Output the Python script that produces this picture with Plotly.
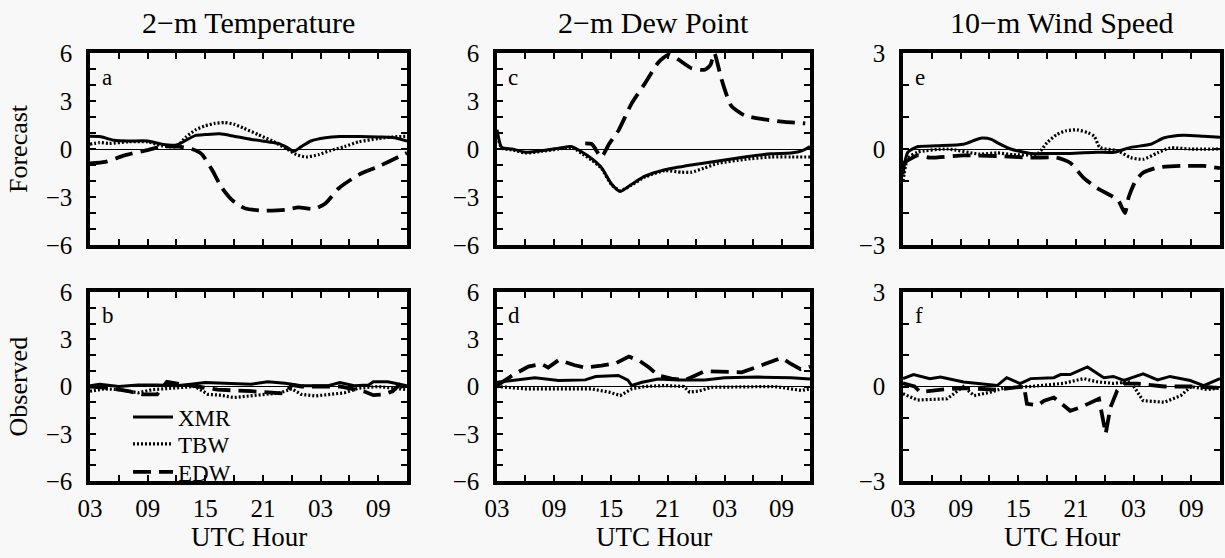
import plotly.graph_objects as go

# Hours elapsed since 03 UTC on the first day
# ---------------- 2-m Temperature, forecast (a) ----------------
a_xmr_h = [0, 1, 2.5, 4, 6, 7.5, 9, 10, 11, 12, 13.5, 15, 16.8, 18.5, 19.6, 20.5, 21.2, 22, 23, 24.5, 26, 28, 30, 31.5, 33]
a_xmr_v = [0.8, 0.78, 0.55, 0.5, 0.5, 0.3, 0.25, 0.55, 0.85, 0.9, 0.95, 0.8, 0.6, 0.45, 0.35, 0.1, -0.15, 0.15, 0.5, 0.7, 0.78, 0.78, 0.75, 0.72, 0.5]
a_tbw_h = [0, 1, 2, 4, 6, 7.5, 9, 10, 11, 12, 13, 14, 15, 16, 17.5, 19, 20.5, 21.5, 22.5, 23.8, 25, 26.5, 28, 30, 31.5, 33]
a_tbw_v = [0.3, 0.4, 0.35, 0.45, 0.45, 0.2, 0.15, 0.75, 1.2, 1.45, 1.6, 1.65, 1.55, 1.3, 0.9, 0.5, 0.0, -0.35, -0.5, -0.35, -0.1, 0.15, 0.45, 0.65, 0.75, 0.8]
a_edw_h = [0, 1.6, 3.6, 6.1, 7.5, 9.2, 10.6, 11.6, 12.7, 13.7, 14.8, 16.1, 17.9, 20.3, 21.7, 23.3, 24.5, 25.9, 28, 30, 32.1, 33]
a_edw_v = [-0.9, -0.8, -0.4, -0.05, 0.15, 0.15, 0.0, -0.3, -1.3, -2.4, -3.2, -3.7, -3.85, -3.8, -3.65, -3.75, -3.4, -2.45, -1.6, -1.1, -0.5, -0.25]

# ---------------- 2-m Temperature, observed (b) ----------------
b_xmr_h = [0, 1, 3, 5, 7, 9, 10.5, 12, 14, 16.8, 18.5, 20.3, 22, 24.8, 26, 27.5, 29, 29.5, 31, 33]
b_xmr_v = [0.05, 0.15, 0.0, 0.1, 0.1, 0.05, 0.15, 0.25, 0.2, 0.15, 0.3, 0.2, 0.05, 0.05, 0.25, 0.05, 0.1, 0.3, 0.3, 0.05]
b_tbw_h = [0, 1.5, 3, 5, 6.5, 8.5, 10.9, 12.3, 13.5, 15, 16.5, 18, 19.8, 21, 22.0, 23.5, 25, 26.5, 28, 30, 31.5, 33]
b_tbw_v = [-0.3, -0.15, -0.2, -0.4, -0.2, -0.1, 0.0, -0.5, -0.55, -0.7, -0.6, -0.5, -0.4, -0.15, -0.5, -0.6, -0.5, -0.4, -0.1, 0.0, -0.1, -0.2]
b_edw_h = [0, 2, 4, 5.5, 7, 8, 9.5, 11, 13.3, 16.8, 20.3, 21.0, 22, 24, 26, 28.5, 29.5, 30.5, 31.5, 32.2, 33]
b_edw_v = [0.0, -0.1, -0.3, -0.5, -0.5, 0.3, 0.15, 0.0, -0.2, -0.3, -0.45, 0.1, 0.0, 0.0, 0.0, -0.3, -0.55, -0.5, -0.3, 0.1, -0.2]

# ---------------- 2-m Dew Point, forecast (c) ----------------
c_xmr_h = [0, 0.5, 1.6, 3, 4.7, 6.5, 7.9, 9, 10, 11, 12.1, 13, 14.2, 15.6, 17.7, 20.5, 23.3, 26.1, 28.9, 31, 32.2, 33]
c_xmr_v = [1.2, 0.1, 0.0, -0.2, -0.1, 0.05, 0.15, -0.2, -0.6, -1.15, -2.2, -2.65, -2.2, -1.7, -1.3, -1.0, -0.75, -0.5, -0.3, -0.25, -0.1, 0.15]
c_tbw_h = [0, 0.5, 1.6, 3, 4.7, 6.5, 7.9, 9, 10, 11, 12.1, 13, 14.2, 15.6, 17.7, 19.5, 20.5, 21.8, 23.3, 26.1, 28.9, 31, 33]
c_tbw_v = [1.0, 0.05, -0.05, -0.25, -0.15, 0.0, 0.1, -0.3, -0.7, -1.2, -2.25, -2.6, -2.25, -1.75, -1.35, -1.45, -1.45, -1.2, -0.9, -0.65, -0.5, -0.5, -0.5]
c_edw_h = [9.3, 10, 11, 11.8, 12.8, 14.2, 15.6, 17, 18.1, 19.1, 20.5, 21.9, 22.5, 22.9, 23.7, 24.7, 26.1, 28.2, 30.3, 32.5]
c_edw_v = [0.35, 0.3, -0.5, 0.3, 1.15, 2.85, 4.1, 5.4, 5.9, 5.6, 5.05, 4.95, 5.25, 6.0, 4.3, 2.7, 2.1, 1.85, 1.7, 1.6]

# ---------------- 2-m Dew Point, observed (d) ----------------
d_xmr_h = [0, 1.6, 4, 6.5, 9.3, 10.4, 12.8, 13.8, 14.2, 15.3, 17, 19.1, 21.9, 24, 27.5, 31, 33]
d_xmr_v = [0.27, 0.38, 0.55, 0.38, 0.42, 0.63, 0.7, 0.4, 0.06, 0.27, 0.48, 0.42, 0.42, 0.55, 0.6, 0.55, 0.48]
d_tbw_h = [0, 3, 7, 10, 11.8, 13, 14.2, 15.6, 17.7, 19.7, 20.3, 21.2, 22.6, 25.8, 29.3, 32.1, 33]
d_tbw_v = [0.0, -0.15, -0.15, -0.15, -0.36, -0.57, -0.15, 0.0, 0.06, 0.0, -0.35, -0.3, -0.05, -0.05, 0.0, -0.25, -0.15]
d_edw_h = [0, 1.6, 3.3, 4.7, 5.4, 6.5, 8.2, 9.3, 11, 12.5, 13.9, 15, 16, 17, 18.4, 19.8, 21.9, 24, 25.8, 27.5, 28.9, 30, 31, 32, 33]
d_edw_v = [0.06, 0.7, 1.26, 1.43, 1.2, 1.68, 1.35, 1.2, 1.33, 1.47, 1.9, 1.64, 1.22, 0.7, 0.5, 0.4, 0.97, 0.9, 0.9, 1.26, 1.55, 1.82, 1.43, 1.1, 1.26]

# ---------------- 10-m Wind Speed, forecast (e) ----------------
e_xmr_h = [0, 0.2, 0.5, 1.5, 3.5, 6.3, 7.5, 8.2, 9.2, 9.8, 11.2, 13.3, 15, 17.4, 20.2, 22, 23.7, 25.8, 27.2, 29.2, 31.3, 33]
e_xmr_v = [-0.8, -0.4, -0.1, 0.07, 0.1, 0.15, 0.28, 0.34, 0.3, 0.2, 0.0, -0.14, -0.14, -0.14, -0.1, -0.1, 0.05, 0.15, 0.35, 0.43, 0.4, 0.37]
e_tbw_h = [0, 0.5, 1.5, 4.6, 8, 9.8, 11.5, 14, 15, 16, 17, 18.1, 19.3, 19.9, 20.5, 22.3, 23.7, 25, 26.5, 27.8, 29.9, 33]
e_tbw_v = [-1.0, -0.3, -0.1, 0.0, -0.16, -0.12, -0.18, -0.15, 0.2, 0.45, 0.57, 0.6, 0.5, 0.4, 0.05, -0.05, -0.27, -0.32, -0.12, 0.03, 0.0, 0.0]
e_edw_h = [0, 1.5, 2.8, 6.3, 9.8, 13.3, 16, 17.4, 18.8, 20.2, 21.6, 22.4, 23.1, 23.5, 24.2, 25, 26.5, 28.9, 31.3, 33]
e_edw_v = [-0.45, -0.2, -0.27, -0.2, -0.22, -0.27, -0.27, -0.43, -0.9, -1.22, -1.45, -1.6, -2.0, -1.5, -1.0, -0.74, -0.58, -0.53, -0.53, -0.6]

# ---------------- 10-m Wind Speed, observed (f) ----------------
f_xmr_h = [0, 1.1, 2.8, 3.9, 6.3, 9.8, 10.8, 12.2, 13.3, 15.7, 16.4, 17.4, 19.2, 20.9, 21.9, 23, 25, 26.5, 27.8, 29.9, 31.3, 33]
f_xmr_v = [0.25, 0.38, 0.25, 0.3, 0.14, 0.03, 0.28, 0.09, 0.25, 0.28, 0.38, 0.38, 0.62, 0.28, 0.32, 0.19, 0.4, 0.21, 0.32, 0.19, 0.03, 0.25]
f_tbw_h = [0, 1.5, 4.6, 5.3, 6.3, 7.4, 9.1, 10.5, 13.3, 16.7, 18.8, 20.2, 21.9, 23.7, 25, 27.2, 28.9, 30, 31.7, 33]
f_tbw_v = [-0.23, -0.43, -0.39, -0.23, 0.0, -0.29, -0.18, -0.05, 0.0, 0.1, 0.25, 0.15, 0.1, 0.15, -0.45, -0.5, -0.29, 0.0, -0.1, -0.05]
f_edw_h = [0, 1.2, 1.8, 4, 6.3, 9.8, 12.6, 12.9, 14, 14.7, 15.7, 16.4, 17.4, 18.5, 19.5, 20.4, 21.1, 21.6, 22.3, 23, 24.4, 27.2, 30.6, 33]
f_edw_v = [0.1, 0.0, -0.18, -0.1, -0.05, -0.1, 0.0, -0.55, -0.6, -0.45, -0.35, -0.53, -0.77, -0.66, -0.5, -0.39, -1.5, -0.66, -0.13, 0.09, 0.09, 0.0, 0.0, -0.05]

# Axis labelling
hour_ticks = list(range(0, 34, 3))
hour_labels = ["03", "", "09", "", "15", "", "21", "", "03", "", "09", ""]
col_titles = ["2\u2212m Temperature", "2\u2212m Dew Point", "10\u2212m Wind Speed"]
row_titles = ["Forecast", "Observed"]
panel_letters = ["a", "b", "c", "d", "e", "f"]
series_names = ["XMR", "TBW", "EDW"]

FONT = "Liberation Serif"
BG = "#f8f8f8"
W, H = 1225, 558

# pixel geometry of the panel grid
col_px = [(90, 407), (497, 810), (903, 1220)]
row_px = [(53, 245), (292, 481)]

series_styles = {
    "XMR": dict(color="black", width=3, dash="solid"),
    "TBW": dict(color="black", width=3.2, dash="2px,2px"),
    "EDW": dict(color="black", width=3.8, dash="18px,8px"),
}
# one legend box per series, stacked inside panel b
legend_ids = {"XMR": "legend", "TBW": "legend2", "EDW": "legend3"}
legend_rows_px = {"XMR": 417, "TBW": 444, "EDW": 472}

panels = [
    # (col, row, {series: (hours, values)}, y-limit)
    (0, 0, {"XMR": (a_xmr_h, a_xmr_v), "TBW": (a_tbw_h, a_tbw_v), "EDW": (a_edw_h, a_edw_v)}, 6),
    (0, 1, {"XMR": (b_xmr_h, b_xmr_v), "TBW": (b_tbw_h, b_tbw_v), "EDW": (b_edw_h, b_edw_v)}, 6),
    (1, 0, {"XMR": (c_xmr_h, c_xmr_v), "TBW": (c_tbw_h, c_tbw_v), "EDW": (c_edw_h, c_edw_v)}, 6),
    (1, 1, {"XMR": (d_xmr_h, d_xmr_v), "TBW": (d_tbw_h, d_tbw_v), "EDW": (d_edw_h, d_edw_v)}, 6),
    (2, 0, {"XMR": (e_xmr_h, e_xmr_v), "TBW": (e_tbw_h, e_tbw_v), "EDW": (e_edw_h, e_edw_v)}, 3),
    (2, 1, {"XMR": (f_xmr_h, f_xmr_v), "TBW": (f_tbw_h, f_tbw_v), "EDW": (f_edw_h, f_edw_v)}, 3),
]


def ylabel(v):
    return "\u2212" + str(-v) if v < 0 else str(v)


fig = go.Figure()
layout = {}
annotations = []

for i, (col, row, data, ylim) in enumerate(panels):
    n = i + 1
    xname = "xaxis" if n == 1 else f"xaxis{n}"
    yname = "yaxis" if n == 1 else f"yaxis{n}"
    xref = "x" if n == 1 else f"x{n}"
    yref = "y" if n == 1 else f"y{n}"

    x0, x1 = col_px[col]
    y0, y1 = row_px[row]

    yticks = list(range(-ylim, ylim + 1))
    ytext = [ylabel(v) if v % 3 == 0 else "" for v in yticks]

    layout[xname] = dict(
        domain=[x0 / W, x1 / W], anchor=yref, range=[0, 33],
        tickmode="array", tickvals=hour_ticks,
        ticktext=hour_labels if row == 1 else [""] * len(hour_ticks),
        showticklabels=(row == 1), automargin=False,
        ticks="inside", ticklen=6, tickwidth=1.5, tickcolor="black",
        showline=True, linewidth=3.5, linecolor="black", mirror="allticks",
        showgrid=False, zeroline=False,
        tickfont=dict(family=FONT, size=25, color="black"),
        ticklabelstandoff=2,
    )
    layout[yname] = dict(
        domain=[1 - y1 / H, 1 - y0 / H], anchor=xref, range=[-ylim, ylim],
        tickmode="array", tickvals=yticks, ticktext=ytext, automargin=False,
        ticks="inside", ticklen=6, tickwidth=1.5, tickcolor="black",
        showline=True, linewidth=3.5, linecolor="black", mirror="allticks",
        showgrid=False, zeroline=True, zerolinecolor="black", zerolinewidth=1,
        tickfont=dict(family=FONT, size=25, color="black"),
        ticklabelstandoff=9,
    )

    # forecast curves are smooth, observed curves are hourly polylines
    shape = dict(shape="spline", smoothing=0.6) if row == 0 else dict(shape="linear")
    for name in series_names:
        hrs, vals = data[name]
        fig.add_trace(go.Scatter(
            x=hrs, y=vals, mode="lines", name=name,
            line=dict(**shape, **series_styles[name]),
            xaxis=xref, yaxis=yref,
            showlegend=(n == 2), legendgroup=name, legend=legend_ids[name],
        ))

    annotations.append(dict(
        text=panel_letters[i], xref=f"{xref} domain", yref=f"{yref} domain",
        x=0.03, y=0.95, xanchor="left", yanchor="top", showarrow=False,
        font=dict(family=FONT, size=23, color="black"),
    ))

for c, title in enumerate(col_titles):
    cx = (col_px[c][0] + col_px[c][1]) / 2 / W
    annotations.append(dict(
        text=title, xref="paper", yref="paper", x=cx, y=1 - 22 / H,
        xanchor="center", yanchor="middle", showarrow=False,
        font=dict(family=FONT, size=30, color="black"),
    ))
    annotations.append(dict(
        text="UTC Hour", xref="paper", yref="paper", x=cx, y=1 - 537 / H,
        xanchor="center", yanchor="middle", showarrow=False,
        font=dict(family=FONT, size=27, color="black"),
    ))

for r, title in enumerate(row_titles):
    cy = 1 - (row_px[r][0] + row_px[r][1]) / 2 / H
    annotations.append(dict(
        text=title, xref="paper", yref="paper", x=18 / W, y=cy,
        xanchor="center", yanchor="middle", textangle=-90, showarrow=False,
        font=dict(family=FONT, size=26, color="black"),
    ))

for name in series_names:
    layout[legend_ids[name]] = dict(
        x=128 / W, y=1 - legend_rows_px[name] / H, xanchor="left", yanchor="middle",
        bgcolor="rgba(0,0,0,0)", borderwidth=0,
        font=dict(family=FONT, size=23, color="black"),
        itemwidth=40,
    )

fig.update_layout(
    **layout,
    annotations=annotations,
    width=W, height=H,
    margin=dict(l=0, r=0, t=0, b=0, autoexpand=False),
    paper_bgcolor=BG, plot_bgcolor=BG,
    showlegend=True,
)

# the page body gets no default margin so the figure fills the window exactly
fig.write_html(
    "out.html",
    post_script="document.body.style.margin='0';document.body.style.overflow='hidden';",
)
